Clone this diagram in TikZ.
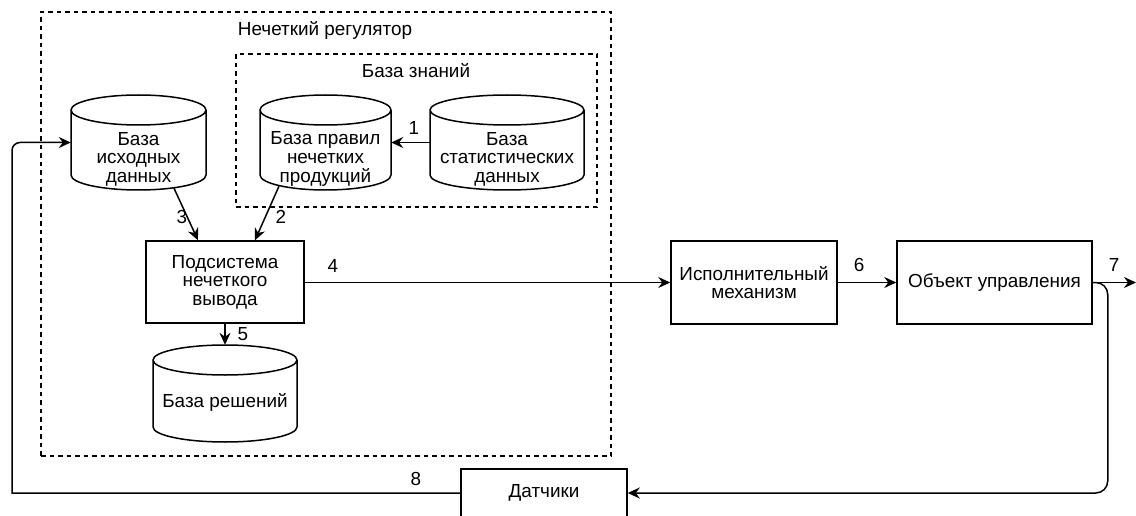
\documentclass[tikz,border=0pt]{standalone}
\usepackage{fontspec}
\setmainfont{Liberation Sans}
\usetikzlibrary{arrows.meta,fit}
\newcommand\dbshape[5]{%
  \node[hold, fit={(#2,#3)(#4,#5)}] (#1) {};
  \draw[line] (#2,#3+15) -- (#2,#5-15)
    arc[start angle=180,end angle=360,x radius={(#4-#2)/2*1pt},y radius=15pt]
    -- (#4,#3+15)
    arc[start angle=0,end angle=360,x radius={(#4-#2)/2*1pt},y radius=15pt];
}
\begin{document}
\begin{tikzpicture}[x=1pt,y=-1pt,
  font=\fontsize{18.9}{18.6}\selectfont,
  line/.style={line width=1.5pt, draw=black},
  arr/.style={line, -{Stealth[length=12pt,width=11pt,inset=4pt]}},
  grp/.style={draw, dash pattern=on 4.5pt off 4pt, line width=1.2pt, inner sep=0pt},
  box/.style={draw, line width=1.5pt, align=center, inner sep=0pt},
  txt/.style={align=center, inner sep=0pt},
  hold/.style={inner sep=0pt}
]
\clip (0,0) rectangle (1136,516);
% groups
\node[grp, minimum width=570pt, minimum height=444pt] (reg) at (326,234) {};
\node[txt, anchor=base] (regt) at (325,36) {Нечеткий регулятор};
\node[grp, minimum width=361pt, minimum height=153pt] (kb) at (416.5,130.5) {};
\node[txt, anchor=base] (kbt) at (416,78) {База знаний};
% cylinders
\dbshape{cyl1}{71}{95}{206}{190}
\node[txt] (cyl1t) at (138.5,159) {База\\исходных\\данных};
\dbshape{cyl2}{260}{95}{391}{190}
\node[txt] (cyl2t) at (325.5,159) {База правил\\нечетких\\продукций};
\dbshape{cyl3}{430}{95}{584}{190}
\node[txt] (cyl3t) at (507,159) {База\\статистических\\данных};
\dbshape{cyl4}{153}{345}{297}{442}
\node[txt] (cyl4t) at (225,402) {База решений};
% boxes
\node[box, minimum width=158pt, minimum height=82pt] (sub) at (225,282) {Подсистема\\нечеткого\\вывода};
\node[box, minimum width=166pt, minimum height=83pt] (act) at (754,282.5) {Исполнительный\\механизм};
\node[box, minimum width=195pt, minimum height=83pt] (obj) at (994.5,282.5) {Объект управления};
\node[box, minimum width=166pt, minimum height=48pt] (dat) at (544,493) {Датчики};
\coordinate (out) at (1136,282.5);
% connectors
\draw[arr] (cyl3.west) -- (cyl2.west -| cyl2.east);
\draw[arr] ([xshift=35.5pt,yshift=2pt]cyl1.south) -- ([xshift=-27pt]sub.north);
\draw[arr] ([xshift=-46.5pt,yshift=4pt]cyl2.south) -- ([xshift=30pt]sub.north);
\draw[arr] (sub.east |- act.west) -- (act.west);
\draw[arr] (sub.south) -- (cyl4.north);
\draw[arr] (act.east) -- (obj.west);
\draw[arr] (obj.east) -- (out);
\draw[arr, rounded corners=12pt] (obj.east) -- ++(15,0) |- (dat.east);
\draw[arr] (dat.west) -- (12,493) {[rounded corners=8pt] |- (cyl1.west)};
% labels
\node[txt] (l1) at (414,128) {1};
\node[txt] (l2) at (281,217) {2};
\node[txt] (l3) at (182,217) {3};
\node[txt] (l4) at (333,266) {4};
\node[txt] (l5) at (243,334) {5};
\node[txt] (l6) at (859,265) {6};
\node[txt] (l7) at (1114,265) {7};
\node[txt] (l8) at (416,479) {8};
\end{tikzpicture}
\end{document}
